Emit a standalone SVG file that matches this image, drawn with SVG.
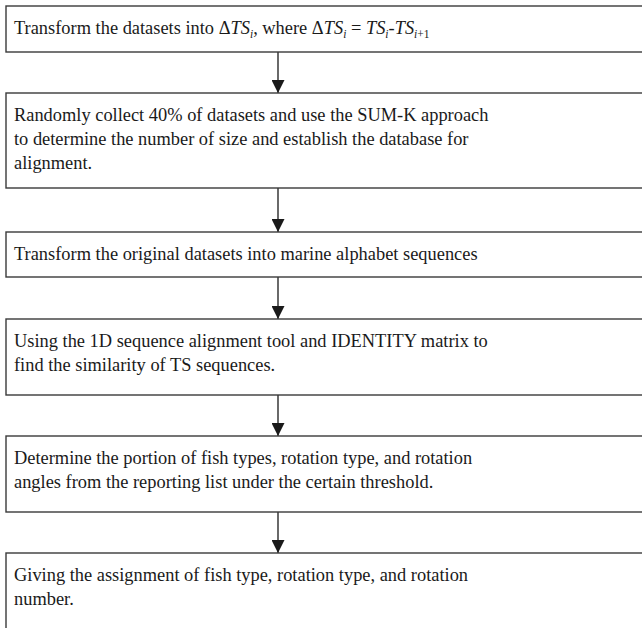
<svg xmlns="http://www.w3.org/2000/svg" width="642" height="628" viewBox="0 0 642 628">
<style>
.box{fill:#fff;stroke:#3a3a3a;stroke-width:1.4}
.t{font-family:"Liberation Serif","Times New Roman",serif;font-size:18.4px;fill:#1a1a1a}
.it{font-style:italic}
.sub{font-size:11.5px}
.con{stroke:#1a1a1a;stroke-width:1.3;fill:none}
</style>
<defs>
<marker id="ah" markerWidth="13" markerHeight="13" refX="13" refY="6.5" orient="auto" markerUnits="userSpaceOnUse">
<path d="M0,0 L13,6.5 L0,13 Z" fill="#1a1a1a"/>
</marker>
</defs>
<rect width="642" height="628" fill="#fff"/>
<g id="connectors">
<line class="con" x1="278" y1="52" x2="278" y2="93" marker-end="url(#ah)"/>
<line class="con" x1="278" y1="188" x2="278" y2="232" marker-end="url(#ah)"/>
<line class="con" x1="278" y1="277" x2="278" y2="319" marker-end="url(#ah)"/>
<line class="con" x1="278" y1="395" x2="278" y2="436" marker-end="url(#ah)"/>
<line class="con" x1="278" y1="512" x2="278" y2="553" marker-end="url(#ah)"/>
</g>
<g id="n1">
<rect class="box" x="6" y="6" width="650" height="46"/>
<text class="t" x="14" y="34">Transform the datasets into Δ<tspan class="it">TS</tspan><tspan class="sub it" dy="4">i</tspan><tspan dy="-4">, where Δ</tspan><tspan class="it">TS</tspan><tspan class="sub it" dy="4">i</tspan><tspan dy="-4"> = </tspan><tspan class="it">TS</tspan><tspan class="sub it" dy="4">i</tspan><tspan dy="-4">-</tspan><tspan class="it">TS</tspan><tspan class="sub" dy="4"><tspan class="it">i</tspan>+1</tspan></text>
</g>
<g id="n2">
<rect class="box" x="6" y="93" width="650" height="95"/>
<text class="t" x="14" y="121">Randomly collect 40% of datasets and use the SUM-K approach</text>
<text class="t" x="14" y="145">to determine the number of size and establish the database for</text>
<text class="t" x="14" y="169">alignment.</text>
</g>
<g id="n3">
<rect class="box" x="6" y="232" width="650" height="45"/>
<text class="t" x="14" y="260">Transform the original datasets into marine alphabet sequences</text>
</g>
<g id="n4">
<rect class="box" x="6" y="319" width="650" height="76"/>
<text class="t" x="14" y="347">Using the 1D sequence alignment tool and IDENTITY matrix to</text>
<text class="t" x="14" y="371">find the similarity of TS sequences.</text>
</g>
<g id="n5">
<rect class="box" x="6" y="436" width="650" height="76"/>
<text class="t" x="14" y="464">Determine the portion of fish types, rotation type, and rotation</text>
<text class="t" x="14" y="488">angles from the reporting list under the certain threshold.</text>
</g>
<g id="n6">
<rect class="box" x="6" y="553" width="650" height="90"/>
<text class="t" x="14" y="581">Giving the assignment of fish type, rotation type, and rotation</text>
<text class="t" x="14" y="605">number.</text>
</g>
</svg>
